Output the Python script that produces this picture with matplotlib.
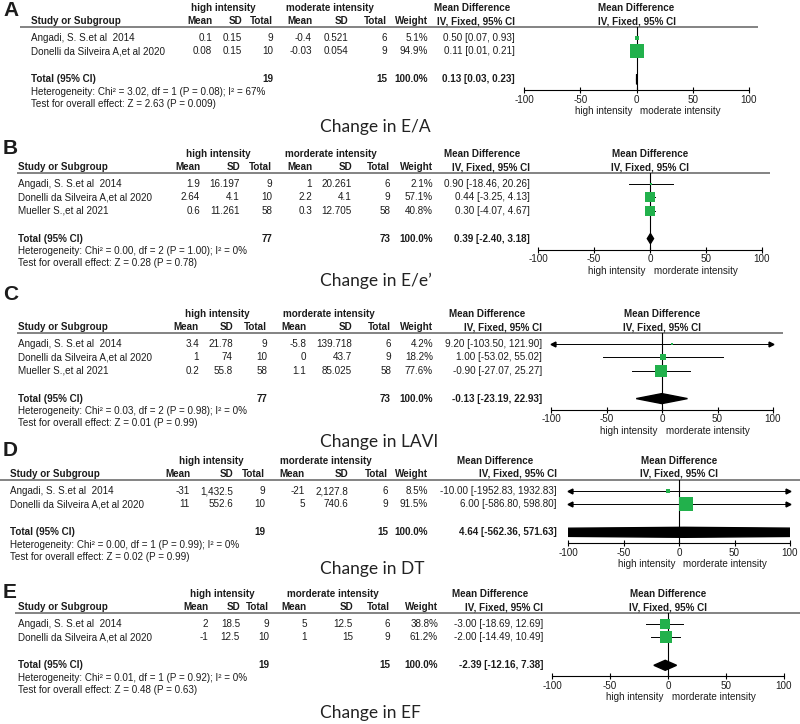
import matplotlib
matplotlib.use("Agg")
import matplotlib.pyplot as plt

# ---- data -------------------------------------------------------------
ang = "Angadi, S. S.et al  2014"
don = "Donelli da Silveira A,et al 2020"
mue = "Mueller S.,et al 2021"

# A: E/A
A_study = [ang, don]
A_hi_mean = [0.1, 0.08]
A_hi_sd = [0.15, 0.15]
A_hi_n = [9, 10]
A_mod_mean = [-0.4, -0.03]
A_mod_sd = [0.521, 0.054]
A_mod_n = [6, 9]
A_weight = [5.1, 94.9]
A_md = [0.50, 0.11]
A_lo = [0.07, 0.01]
A_hi = [0.93, 0.21]
A_total = [19, 15, 0.13, 0.03, 0.23]
A_het = "Heterogeneity: Chi\u00b2 = 3.02, df = 1 (P = 0.08); I\u00b2 = 67%"
A_z = "Test for overall effect: Z = 2.63 (P = 0.009)"

# B: E/e'
B_study = [ang, don, mue]
B_hi_mean = [1.9, 2.64, 0.6]
B_hi_sd = [16.197, 4.1, 11.261]
B_hi_n = [9, 10, 58]
B_mod_mean = [1, 2.2, 0.3]
B_mod_sd = [20.261, 4.1, 12.705]
B_mod_n = [6, 9, 58]
B_weight = [2.1, 57.1, 40.8]
B_md = [0.90, 0.44, 0.30]
B_lo = [-18.46, -3.25, -4.07]
B_hi = [20.26, 4.13, 4.67]
B_total = [77, 73, 0.39, -2.40, 3.18]
B_het = "Heterogeneity: Chi\u00b2 = 0.00, df = 2 (P = 1.00); I\u00b2 = 0%"
B_z = "Test for overall effect: Z = 0.28 (P = 0.78)"

# C: LAVI
C_study = [ang, don, mue]
C_hi_mean = [3.4, 1, 0.2]
C_hi_sd = [21.78, 74, 55.8]
C_hi_n = [9, 10, 58]
C_mod_mean = [-5.8, 0, 1.1]
C_mod_sd = [139.718, 43.7, 85.025]
C_mod_n = [6, 9, 58]
C_weight = [4.2, 18.2, 77.6]
C_md = [9.20, 1.00, -0.90]
C_lo = [-103.50, -53.02, -27.07]
C_hi = [121.90, 55.02, 25.27]
C_total = [77, 73, -0.13, -23.19, 22.93]
C_het = "Heterogeneity: Chi\u00b2 = 0.03, df = 2 (P = 0.98); I\u00b2 = 0%"
C_z = "Test for overall effect: Z = 0.01 (P = 0.99)"

# D: DT
D_study = [ang, don]
D_hi_mean = [-31, 11]
D_hi_sd = [1432.5, 552.6]
D_hi_n = [9, 10]
D_mod_mean = [-21, 5]
D_mod_sd = [2127.8, 740.6]
D_mod_n = [6, 9]
D_weight = [8.5, 91.5]
D_md = [-10.00, 6.00]
D_lo = [-1952.83, -586.80]
D_hi = [1932.83, 598.80]
D_total = [19, 15, 4.64, -562.36, 571.63]
D_het = "Heterogeneity: Chi\u00b2 = 0.00, df = 1 (P = 0.99); I\u00b2 = 0%"
D_z = "Test for overall effect: Z = 0.02 (P = 0.99)"

# E: EF
E_study = [ang, don]
E_hi_mean = [2, -1]
E_hi_sd = [18.5, 12.5]
E_hi_n = [9, 10]
E_mod_mean = [5, 1]
E_mod_sd = [12.5, 15]
E_mod_n = [6, 9]
E_weight = [38.8, 61.2]
E_md = [-3.00, -2.00]
E_lo = [-18.69, -14.49]
E_hi = [12.69, 10.49]
E_total = [19, 15, -2.39, -12.16, 7.38]
E_het = "Heterogeneity: Chi\u00b2 = 0.01, df = 1 (P = 0.92); I\u00b2 = 0%"
E_z = "Test for overall effect: Z = 0.48 (P = 0.63)"

outcomes = ["E/A", "E/e\u2019", "LAVI", "DT", "EF"]
grp_hi = "high intensity"
grp_mod = ["moderate intensity"] + ["morderate intensity"] * 4
ticks = [-100, -50, 0, 50, 100]

panels = {
    "A": (A_study, A_hi_mean, A_hi_sd, A_hi_n, A_mod_mean, A_mod_sd, A_mod_n,
          A_weight, A_md, A_lo, A_hi, A_total, A_het, A_z),
    "B": (B_study, B_hi_mean, B_hi_sd, B_hi_n, B_mod_mean, B_mod_sd, B_mod_n,
          B_weight, B_md, B_lo, B_hi, B_total, B_het, B_z),
    "C": (C_study, C_hi_mean, C_hi_sd, C_hi_n, C_mod_mean, C_mod_sd, C_mod_n,
          C_weight, C_md, C_lo, C_hi, C_total, C_het, C_z),
    "D": (D_study, D_hi_mean, D_hi_sd, D_hi_n, D_mod_mean, D_mod_sd, D_mod_n,
          D_weight, D_md, D_lo, D_hi, D_total, D_het, D_z),
    "E": (E_study, E_hi_mean, E_hi_sd, E_hi_n, E_mod_mean, E_mod_sd, E_mod_n,
          E_weight, E_md, E_lo, E_hi, E_total, E_het, E_z),
}

# ---- layout (pixels) --------------------------------------------------
W, H = 800, 724
layout = {
    "A": dict(letter_y=10, line_y=27, lx=(20, 758), study=31,
              cols=[212, 242, 273, 312, 348, 387, 428, 515], grp=(223, 330),
              md_c=472, fx=(524, 749), change_y=127),
    "B": dict(letter_y=148, line_y=173, lx=(17, 770), study=18,
              cols=[200, 240, 272, 312, 352, 390, 433, 530], grp=(218, 331),
              md_c=482, fx=(538, 762), change_y=281),
    "C": dict(letter_y=295, line_y=333, lx=(17, 783), study=18,
              cols=[199, 233, 267, 306, 352, 391, 433, 542], grp=(217, 329),
              md_c=487, fx=(551, 773), change_y=442),
    "D": dict(letter_y=450, line_y=480, lx=(0, 800), study=10,
              cols=[190, 233, 265, 305, 348, 388, 428, 557], grp=(211, 326),
              md_c=495, fx=(568, 790), change_y=569),
    "E": dict(letter_y=593, line_y=613, lx=(15, 800), study=18,
              cols=[208, 240, 269, 307, 353, 390, 438, 543], grp=(222, 333),
              md_c=490, fx=(552, 784), change_y=713),
}

green = "#22b14c"
txt = "#1c1c1c"
fs = 7.1
tfont = "Liberation Sans"


def fmt(v):
    return f"{v:,}"


fig = plt.figure(figsize=(W / 100, H / 100), dpi=100)
ax0 = fig.add_axes([0, 0, 1, 1])
ax0.set_xlim(0, W)
ax0.set_ylim(H, 0)
ax0.axis("off")


def t(x, y, s, ha="left", bold=False, size=fs, family=tfont):
    ax0.text(x, y, s, ha=ha, va="center", fontsize=size, color=txt,
             fontweight="bold" if bold else "normal", family=family)


for k, key in enumerate(panels):
    (study, hm, hs, hn, mm, ms_, mn, wt, md, lo, hi, tot, het, zt) = panels[key]
    L = layout[key]
    ly = L["line_y"]
    c = L["cols"]
    rows = [ly + 11 + 13.3 * i for i in range(len(study))]
    ty = rows[-1] + 28
    axis_y = ty + 11

    t(3, L["letter_y"], key, bold=True, size=15)

    # headers
    t(L["grp"][0], ly - 19, grp_hi, ha="center", bold=True)
    t(L["grp"][1], ly - 19, grp_mod[k], ha="center", bold=True)
    t(L["md_c"], ly - 19, "Mean Difference", ha="center", bold=True)
    f0, f1 = L["fx"]
    zx = (f0 + f1) / 2
    t(zx, ly - 19, "Mean Difference", ha="center", bold=True)
    hy = ly - 6
    t(L["study"], hy, "Study or Subgroup", bold=True)
    for x, s in zip(c, ["Mean", "SD", "Total", "Mean", "SD", "Total", "Weight"]):
        t(x, hy, s, ha="right", bold=True)
    t(c[7], hy, "IV, Fixed, 95% CI", ha="right", bold=True)
    t(zx, hy, "IV, Fixed, 95% CI", ha="center", bold=True)
    ax0.plot(L["lx"], [ly, ly], color="#7a7a7a", lw=1.3, solid_capstyle="butt")

    # study rows
    for i, y in enumerate(rows):
        t(L["study"], y, study[i])
        vals = [fmt(hm[i]), fmt(hs[i]), fmt(hn[i]), fmt(mm[i]), fmt(ms_[i]),
                fmt(mn[i]), f"{wt[i]:.1f}%",
                f"{md[i]:.2f} [{lo[i]:.2f}, {hi[i]:.2f}]"]
        for x, s in zip(c, vals):
            t(x, y, s, ha="right")

    # totals
    t(L["study"], ty, "Total (95% CI)", bold=True)
    t(c[2], ty, fmt(tot[0]), ha="right", bold=True)
    t(c[5], ty, fmt(tot[1]), ha="right", bold=True)
    t(c[6], ty, "100.0%", ha="right", bold=True)
    t(c[7], ty, f"{tot[2]:.2f} [{tot[3]:.2f}, {tot[4]:.2f}]", ha="right", bold=True)
    t(L["study"], ty + 12.5, het)
    t(L["study"], ty + 24.5, zt)

    # forest plot
    ax = fig.add_axes([f0 / W, 1 - axis_y / H, (f1 - f0) / W, (axis_y - ly) / H])
    ax.set_xlim(-100, 100)
    ax.set_ylim(axis_y, ly)
    ax.patch.set_visible(False)
    for s in ["top", "left", "right"]:
        ax.spines[s].set_visible(False)
    ax.spines["bottom"].set_linewidth(0.8)
    ax.set_yticks([])
    ax.set_xticks(ticks)
    ax.set_xticklabels([str(v) for v in ticks], fontsize=fs, color=txt, family=tfont)
    ax.tick_params(axis="x", direction="inout", length=5, width=0.8, pad=1)
    ax.axvline(0, color="black", lw=0.8, zorder=1)

    for i, y in enumerate(rows):
        a, b = max(lo[i], -100), min(hi[i], 100)
        ax.plot([a, b], [y, y], color="black", lw=0.7, zorder=2)
        if lo[i] < -100:
            ax.plot([-98], [y], marker="<", ms=3.5, color="black", clip_on=False, zorder=2)
        if hi[i] > 100:
            ax.plot([98], [y], marker=">", ms=3.5, color="black", clip_on=False, zorder=2)
        side = 1.45 * wt[i] ** 0.5
        ax.plot([md[i]], [y], marker="s", ms=side * 0.72, color=green,
                mec=green, mew=0, zorder=3, clip_on=False)

    dh = 5
    ax.fill([tot[3], tot[2], tot[4], tot[2]], [ty, ty - dh, ty, ty + dh],
            color="black", zorder=3)

    t(zx - 4, axis_y + 21, grp_hi, ha="right")
    t(zx + 4, axis_y + 21, grp_mod[k], ha="left")

    ax0.text(320, L["change_y"], "Change in " + outcomes[k], ha="left", va="center",
             fontsize=12.5, color="#222222", family="Lato")

fig.savefig("out.png", dpi=100)
